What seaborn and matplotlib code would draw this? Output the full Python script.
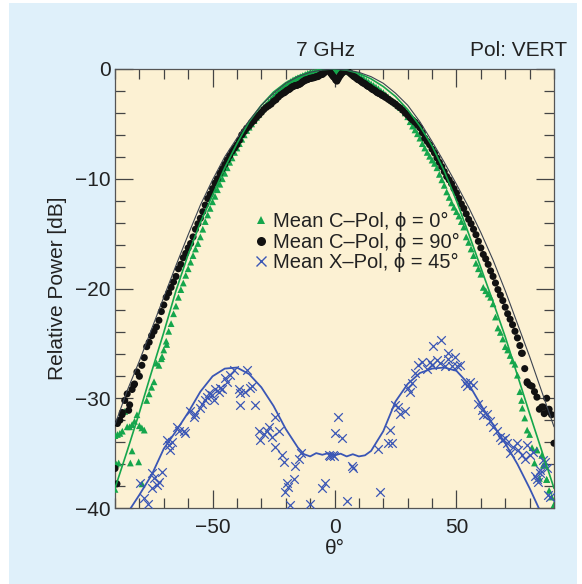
import matplotlib
matplotlib.use("Agg")
import matplotlib.pyplot as plt
import seaborn as sns
import pandas as pd
from matplotlib.ticker import MultipleLocator
from matplotlib.patches import Rectangle
from matplotlib.lines import Line2D

# ---------------- data ----------------
# measurement angle grid, one sample per degree
theta_grid = list(range(-90, 91))

# Mean C-Pol, phi = 0 deg (green triangles), one value per degree -90..90
p_c0 = [
    -33.4, -33.3, -33.2, -33.0, -31.2, -32.6, -32.6, -32.4, -32.1, -31.5,   # -90..-81
    -32.5, -32.7, -32.9, -30.2, -29.6, -29.0, -28.5, -26.8, -27.0, -26.4,   # -80..-71
    -25.6, -24.8, -23.9, -23.2, -22.3, -21.6, -20.8, -20.1, -19.5, -18.8,   # -70..-61
    -18.2, -17.6, -17.0, -16.4, -15.9, -15.3, -14.6, -13.9, -13.3, -12.7,   # -60..-51
    -12.1, -11.6, -11.0, -10.5, -10.0, -9.5, -9.0, -8.5, -8.1, -7.6,        # -50..-41
    -7.2, -6.8, -6.4, -6.0, -5.6, -5.3, -5.0, -4.7, -4.4, -4.1,             # -40..-31
    -3.8, -3.5, -3.25, -3.0, -2.75, -2.5, -2.25, -2.05, -1.85, -1.65,       # -30..-21
    -1.5, -1.3, -1.15, -1.0, -0.9, -0.8, -0.7, -0.6, -0.5, -0.4,            # -20..-11
    -0.35, -0.3, -0.25, -0.2, -0.15, -0.1, -0.1, -0.05, -0.1, -0.15,        # -10..-1
    -0.2,                                                                   # 0
    -0.15, -0.1, -0.1, -0.15, -0.2, -0.25, -0.35, -0.45, -0.55, -0.65,      # 1..10
    -0.75, -0.9, -1.05, -1.2, -1.35, -1.5, -1.65, -1.8, -2.0, -2.15,        # 11..20
    -2.35, -2.55, -2.75, -2.95, -3.1, -3.3, -3.5, -3.7, -4.0, -4.35,        # 21..30
    -4.8, -5.2, -5.55, -5.9, -6.3, -6.8, -7.2, -7.6, -7.95, -8.3,           # 31..40
    -8.6, -9.0, -9.6, -10.1, -10.6, -11.2, -11.7, -12.2, -12.6, -13.0,      # 41..50
    -13.4, -13.9, -14.4, -15.3, -15.8, -16.4, -17.0, -17.7, -18.2, -18.7,   # 51..60
    -19.9, -20.2, -20.5, -20.8, -21.4, -22.6, -23.6, -24.0, -24.6, -25.3,   # 61..70
    -25.6, -26.1, -26.6, -26.9, -27.9, -29.4, -30.9, -31.8, -32.9, -33.3,   # 71..80
    -34.5, -35.9, -34.7, -37.3, -35.2, -36.1, -37.4, -38.4, -39.0, -39.8,   # 81..90
]
theta_c0_extra = [-90.0, -89.5, -88.5, -83.7, -83.0, -80.3, -78.9, -70.7, -68.8,
                  76.7, 82.9, 85.6, 87.0, 90.0]
p_c0_extra = [-38.3, -36.0, -35.9, -35.9, -34.8, -35.8, -37.8, -26.2, -25.1,
              -30.2, -34.7, -36.1, -37.4, -39.7]

# Mean C-Pol, phi = 90 deg (black dots), one value per degree -90..90
p_c90 = [
    -36.4, -32.3, -32.0, -31.3, -30.2, -29.6, -30.6, -29.2, -28.7, -27.6,   # -90..-81
    -28.0, -27.0, -26.3, -25.3, -24.9, -24.3, -23.9, -23.5, -22.9, -22.1,   # -80..-71
    -21.5, -20.8, -20.4, -19.9, -19.4, -18.9, -18.2, -17.8, -17.2, -16.8,   # -70..-61
    -16.3, -15.9, -15.3, -14.6, -14.1, -13.6, -13.0, -12.4, -11.8, -11.4,   # -60..-51
    -10.9, -10.4, -10.0, -9.5, -9.1, -8.7, -8.3, -7.9, -7.5, -7.2,          # -50..-41
    -6.9, -6.5, -6.0, -5.7, -5.4, -5.2, -4.9, -4.7, -4.4, -4.2,             # -40..-31
    -3.95, -3.7, -3.5, -3.35, -3.2, -2.95, -2.8, -2.55, -2.35, -2.2,        # -30..-21
    -2.05, -1.9, -1.75, -1.6, -1.5, -1.45, -1.35, -1.15, -1.0, -0.95,       # -20..-11
    -0.85, -0.8, -0.75, -0.7, -0.55, -0.5, -0.3, -0.05, -0.25, -0.55,       # -10..-1
    -0.8,                                                                   # 0
    -1.1, -0.7, -0.4, -0.2, -0.1, -0.3, -0.5, -0.7, -0.85, -1.0,            # 1..10
    -1.15, -1.3, -1.45, -1.6, -1.75, -1.9, -2.05, -2.2, -2.3, -2.45,        # 11..20
    -2.6, -2.75, -2.9, -3.05, -3.2, -3.4, -3.55, -3.75, -4.0, -4.2,         # 21..30
    -4.45, -4.65, -4.85, -5.1, -5.35, -5.8, -6.3, -6.6, -6.9, -7.3,         # 31..40
    -7.65, -8.1, -8.5, -8.9, -9.35, -9.8, -10.1, -10.45, -10.9, -11.3,      # 41..50
    -11.8, -12.3, -12.7, -13.2, -13.7, -14.1, -14.6, -15.1, -15.7, -16.3,   # 51..60
    -16.9, -17.3, -17.8, -18.4, -18.9, -19.5, -20.1, -20.6, -21.1, -21.7,   # 61..70
    -22.3, -22.8, -23.3, -23.9, -24.5, -25.2, -25.9, -27.3, -28.5, -28.8,   # 71..80
    -28.9, -29.4, -29.9, -31.0, -30.8, -31.4, -30.0, -31.0, -31.5, -34.1,   # 81..90
]
theta_c90_extra = [-89.2, -87.1, -84.4, -82.3,
                   -20.5, -19.5, -18.5, -17.5, -16.5, -15.5, -14.5, -13.5, -12.5, -11.5,
                   -10.5, -9.5, -8.5, -7.5, -6.5, -5.5, -4.5, -3.5, -2.5, -1.5, -0.5,
                   0.5, 1.5, 2.5, 3.5, 4.5, 5.5, 6.5, 7.5, 8.5, 9.5, 10.5, 11.5, 12.5,
                   13.5, 14.5, 15.5, 16.5, 17.5, 18.5, 19.5, 20.5,
                   76.7, 79.0, 85.6, 87.7]
p_c90_extra = [-37.8, -31.5, -31.1, -28.8,
               -2.15, -1.95, -1.85, -1.65, -1.55, -1.5, -1.4, -1.25, -1.1, -1.0,
               -0.9, -0.85, -0.8, -0.7, -0.65, -0.5, -0.4, -0.15, -0.1, -0.4, -0.7,
               -1.0, -0.9, -0.55, -0.3, -0.15, -0.2, -0.4, -0.6, -0.75, -0.95, -1.05,
               -1.25, -1.35, -1.55, -1.65, -1.85, -1.95, -2.15, -2.25, -2.4, -2.5,
               -25.9, -28.6, -30.8, -31.2]

# Mean X-Pol, phi = 45 deg (blue crosses)
theta_x = [
    -79.6, -78.2, -76.5, -74.8, -74.1, -74.8, -72.8, -72.1, -70.7, -68.7,
    -68.0, -67.3, -66.6, -64.6, -63.9, -61.8, -61.2, -59.1, -57.7, -57.1,
    -55.0, -54.3, -53.0, -52.3, -51.6, -50.2, -49.5, -48.9, -47.5, -46.8,
    -46.1, -44.8, -44.1, -42.7, -41.3, -39.3, -38.6, -38.6, -36.6, -35.9,
    -34.5, -33.8, -32.5, -31.1, -30.4, -29.0, -27.7, -27.0, -25.6, -24.3,
    -24.3, -22.9, -21.5, -20.8, -19.5, -20.2, -16.7, -16.1, -14.7, -18.1,
    -9.9, -5.1, -3.8, -2.4, -0.3,
    -18.9, -13.9, -1.8, 0.2, -0.5, 1.5, 3.0, 5.0, 7.0, 7.7,
    18.7, 18.0, 22.1, 23.5, 22.8,
    24.8, 26.2, 26.9, 28.9, 30.3, 31.0, 31.7, 33.0, 34.4, 35.8,
    37.8, 39.2, 39.9, 41.9, 43.3, 45.3, 46.7, 48.1, 49.4, 50.1,
    51.5, 53.5, 54.2, 55.6, 56.9, 59.0, 60.3, 61.0, 62.4, 63.8,
    65.1, 66.5, 67.9, 68.6, 69.9, 70.6, 72.0, 73.3, 74.7, 75.4,
    76.7, 78.1, 80.2, 78.8, 81.5, 82.2, 83.6, 84.3, 86.3, 87.0,
    87.7, 85.6, 84.3, 82.9, 88.4,
    40.5, 43.5, 46.7,
]
p_x = [
    -37.75, -39.1, -39.6, -36.8, -37.3, -38.2, -37.9, -37.6, -36.7, -33.8,
    -34.3, -34.7, -34.0, -32.6, -33.0, -33.0, -33.2, -31.2, -31.7, -31.4,
    -30.9, -30.5, -30.2, -29.9, -29.5, -29.7, -30.2, -29.2, -29.4, -29.1,
    -29.2, -28.2, -28.5, -27.9, -27.4, -29.2, -29.5, -30.6, -29.4, -27.4,
    -29.1, -28.9, -30.6, -33.0, -33.8, -33.3, -33.0, -32.6, -33.5, -31.7,
    -34.4, -33.0, -35.2, -35.8, -37.75, -38.5, -37.4, -36.2, -35.5, -39.7,
    -39.6, -38.2, -37.75, -35.2, -35.3,
    -38.1, -35.0, -35.3, -33.2, -35.2, -31.7, -33.6, -39.4, -36.2, -36.4,
    -38.5, -34.6, -34.1, -34.1, -32.9,
    -30.6, -30.8, -31.4, -31.2, -29.1, -29.4, -28.6, -27.7, -27.0, -26.7,
    -27.3, -26.7, -27.0, -26.5, -26.8, -27.1, -26.4, -27.1, -26.2, -27.1,
    -27.0, -28.6, -28.9, -28.5, -28.8, -30.5, -31.1, -31.5, -31.4, -32.1,
    -32.6, -33.0, -33.5, -33.8, -33.6, -34.1, -35.0, -34.4, -34.1, -34.7,
    -35.2, -35.5, -35.2, -34.3, -34.9, -37.1, -37.6, -36.5, -35.8, -36.4,
    -38.8, -35.6, -36.8, -37.4, -39.0,
    -25.2, -24.7, -25.9,
]

# model curves
theta_model = [-90, -85, -80, -75, -70, -65, -60, -55, -50, -45, -40, -35, -30, -25,
               -20, -15, -10, -5, 0, 5, 10, 15, 20, 25, 30, 35, 40, 45, 50, 55, 60,
               65, 70, 75, 80, 85, 90]
model_c0 = [-38.2, -34.8, -31.3, -27.6, -24.0, -20.2, -16.9, -14.0, -11.5, -9.0, -6.8,
            -4.8, -3.3, -2.1, -1.25, -0.65, -0.25, -0.05, 0.0, -0.1, -0.4, -0.9, -1.6,
            -2.5, -3.7, -5.2, -7.0, -9.3, -12.0, -15.0, -18.1, -21.2, -24.4, -27.9,
            -31.4, -34.8, -38.2]
model_c90 = [-32.4, -29.3, -26.6, -23.7, -20.8, -17.9, -15.1, -12.4, -10.1, -8.0, -6.3,
             -4.7, -3.3, -2.2, -1.3, -0.7, -0.3, -0.08, 0.0, -0.08, -0.3, -0.7, -1.3,
             -2.2, -3.3, -4.8, -6.6, -8.5, -10.5, -12.6, -14.9, -17.4, -20.2, -23.2,
             -26.2, -29.4, -32.6]
theta_model_x = [-90, -85, -80, -75, -70, -65, -60, -55, -50, -45, -40, -35, -30, -25,
                 -20, -15, -12.5, -10, -7.5, -5, -2.5, 0, 2.5, 5, 7.5, 10, 12.5, 15,
                 20, 25, 30, 35, 40, 45, 50, 55, 60, 65, 70, 75, 80, 85, 90]
model_x = [-43.0, -40.5, -38.8, -37.0, -34.6, -33.0, -31.3, -29.4, -28.0, -27.3, -27.2,
           -27.8, -29.0, -30.7, -32.8, -34.5, -35.1, -35.3, -35.0, -35.15, -35.0, -35.2,
           -35.05, -35.3, -35.1, -35.3, -35.2, -34.8, -33.0, -30.3, -28.7, -27.7, -27.3,
           -27.2, -27.5, -28.7, -30.6, -32.4, -34.1, -36.0, -38.2, -40.6, -43.0]

labels = ["Mean C\u2013Pol, \u03d5 = 0\u00b0",
          "Mean C\u2013Pol, \u03d5 = 90\u00b0",
          "Mean X\u2013Pol, \u03d5 = 45\u00b0"]

# ---------------- styling ----------------
GREEN = "#15a64c"
BLACK = "#111111"
BLUE = "#3a56b5"
MODEL_BLACK = "#3b4350"
BG_BLUE = "#dff0fa"
CREAM = "#fcf1d3"
TXT = "#222222"

sns.set_theme(style="ticks")
plt.rcParams["font.family"] = ["Liberation Sans", "DejaVu Sans"]

fig = plt.figure(figsize=(5.82, 5.84), dpi=100)
fig.patch.set_facecolor("white")
fig.patches.append(Rectangle((9 / 582, 0), (577 - 9) / 582, (584 - 3) / 584,
                             transform=fig.transFigure, facecolor=BG_BLUE,
                             edgecolor="none", zorder=-10))

ax = fig.add_axes([115 / 582, (584 - 508) / 584, 439 / 582, 439 / 584])
ax.set_facecolor(CREAM)

df_c0 = pd.DataFrame({"theta": theta_grid + theta_c0_extra, "p": p_c0 + p_c0_extra})
df_c90 = pd.DataFrame({"theta": theta_grid + theta_c90_extra, "p": p_c90 + p_c90_extra})
df_x = pd.DataFrame({"theta": theta_x, "p": p_x})

sns.scatterplot(data=df_c0, x="theta", y="p", marker="^", s=24, color=GREEN,
                edgecolor="none", ax=ax, zorder=3, legend=False)
sns.scatterplot(data=df_c90, x="theta", y="p", marker="o", s=26, color=BLACK,
                edgecolor="none", ax=ax, zorder=4, legend=False)
sns.scatterplot(data=df_x, x="theta", y="p", marker="x", s=38, color=BLUE,
                linewidth=0.9, ax=ax, zorder=4, legend=False)

sns.lineplot(x=theta_model, y=model_c0, color=GREEN, lw=1.2, ax=ax, zorder=5,
             sort=False, estimator=None)
sns.lineplot(x=theta_model, y=model_c90, color=MODEL_BLACK, lw=0.8, ax=ax, zorder=5,
             sort=False, estimator=None)
sns.lineplot(x=theta_model_x, y=model_x, color=BLUE, lw=1.3, ax=ax, zorder=5,
             sort=False, estimator=None)

ax.set_xlim(-90, 90)
ax.set_ylim(-40, 0)
ax.xaxis.set_major_locator(MultipleLocator(50))
ax.xaxis.set_minor_locator(MultipleLocator(10))
ax.yaxis.set_major_locator(MultipleLocator(10))
ax.yaxis.set_minor_locator(MultipleLocator(2))
ax.tick_params(which="both", direction="in", top=True, right=True,
               color="#444444", width=0.9, labelsize=15, labelcolor=TXT)
ax.tick_params(which="major", length=13)
ax.tick_params(which="minor", length=7)
ax.tick_params(axis="x", pad=7)
ax.tick_params(axis="y", pad=3)
for sp in ax.spines.values():
    sp.set_color("#555555")
    sp.set_linewidth(0.9)

ax.set_xlabel("\u03b8\u00b0", fontsize=15, color=TXT, va="center")
ax.xaxis.set_label_coords(0.5, -(549 - 508) / 439)
ax.set_ylabel("Relative Power [dB]", fontsize=15, color=TXT, va="center")
ax.yaxis.set_label_coords((58 - 115) / 439, 0.5)

fig.text(325 / 582, 1 - 50 / 584, "7 GHz", ha="center", va="center",
         fontsize=15, color=TXT)
fig.text(567 / 582, 1 - 50 / 584, "Pol: VERT", ha="right", va="center",
         fontsize=15, color=TXT)

handles = [
    Line2D([], [], marker="^", ls="", color=GREEN, markersize=5.5, markeredgewidth=0),
    Line2D([], [], marker="o", ls="", color=BLACK, markersize=6.5, markeredgewidth=0),
    Line2D([], [], marker="x", ls="", color=BLUE, markersize=6.5, markeredgewidth=1.0),
]
ax.legend(handles=handles, labels=labels, loc="upper left",
          bbox_to_anchor=((254 - 115) / 439, (508 - 212) / 439),
          frameon=False, fontsize=14.5, handlelength=0.7, handletextpad=0.25,
          labelspacing=0.08, borderaxespad=0, borderpad=0, labelcolor=TXT)

fig.savefig("out.png", dpi=100)
